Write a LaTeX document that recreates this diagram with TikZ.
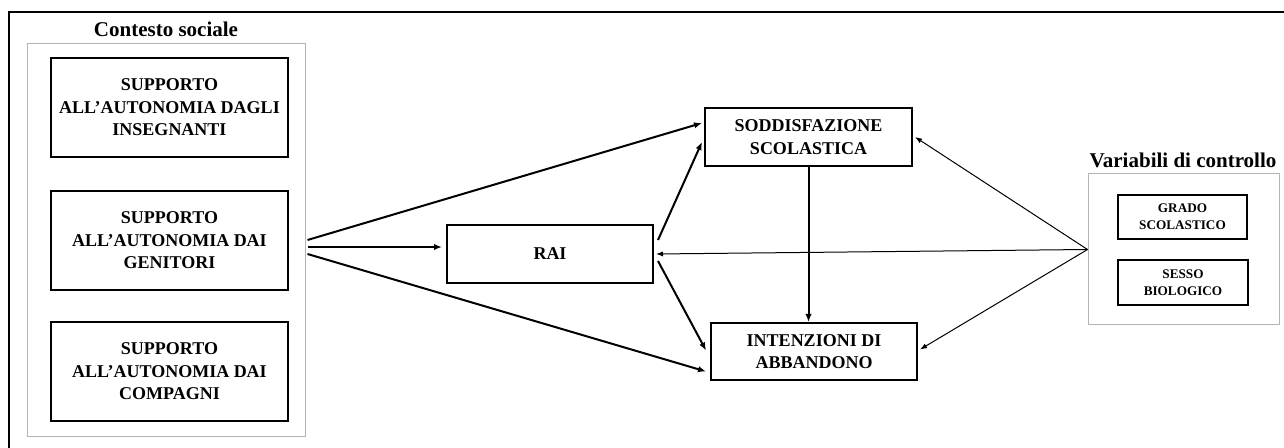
\documentclass[tikz,border=0pt]{standalone}
\usepackage{fontspec}
\setmainfont{Liberation Serif}
\usepackage{tikz}
\usetikzlibrary{arrows.meta}
\definecolor{framegray}{HTML}{B4B4B4}
\tikzset{
  varbox/.style={
    draw,line width=1pt,rectangle,
    align=center,inner sep=0pt,
    font=\bfseries\fontsize{9}{11.25}\selectfont
  },
  ctrlbox/.style={
    draw,line width=1pt,rectangle,
    align=center,inner sep=0pt,
    font=\bfseries\fontsize{6.6}{8.5}\selectfont
  },
  groupbox/.style={draw=framegray,line width=0.5pt,rectangle,inner sep=0pt},
  grouplabel/.style={font=\bfseries\fontsize{10.5}{12}\selectfont},
  path/.style={line width=1pt,-{Latex[length=4pt,width=3.2pt]}},
  ctrlpath/.style={line width=0.5pt,-{Latex[length=3.5pt,width=2.6pt]}}
}

\begin{document}
\begin{tikzpicture}[x=0.5pt,y=-0.5pt]
  \path[use as bounding box] (0,0) rectangle (1284,448);
  \clip (0,0) rectangle (1284,448);
  \draw[line width=1pt] (9,12) rectangle (1300,470);

  % contesto sociale
  \node[groupbox,minimum width=139pt,minimum height=196pt] (contesto) at (166,240) {};
  \node[grouplabel] (contestolab) at (166,29) {Contesto sociale};
  \node[varbox,minimum width=118.5pt,minimum height=49.5pt] (insegnanti) at (169.5,107.5)
    {SUPPORTO\\ALL’AUTONOMIA DAGLI\\INSEGNANTI};
  \node[varbox,minimum width=118.5pt,minimum height=49.5pt] (genitori) at (169.5,240.5)
    {SUPPORTO\\ALL’AUTONOMIA DAI\\GENITORI};
  \node[varbox,minimum width=118.5pt,minimum height=49.5pt] (compagni) at (169.5,371.5)
    {SUPPORTO\\ALL’AUTONOMIA DAI\\COMPAGNI};

  % mediatore e esiti
  \node[varbox,minimum width=103pt,minimum height=29pt] (rai) at (550,254) {RAI};
  \node[varbox,minimum width=103.5pt,minimum height=29pt] (soddisfazione) at (808.5,137)
    {SODDISFAZIONE\\SCOLASTICA};
  \node[varbox,minimum width=103pt,minimum height=28.5pt] (abbandono) at (814,351.5)
    {INTENZIONI DI\\ABBANDONO};

  % variabili di controllo
  \node[groupbox,minimum width=95.5pt,minimum height=75.5pt] (controllo) at (1183.5,249.5) {};
  \node[grouplabel] (controllolab) at (1183,160) {Variabili di controllo};
  \node[ctrlbox,minimum width=64.5pt,minimum height=22pt] (grado) at (1182.5,217)
    {GRADO\\SCOLASTICO};
  \node[ctrlbox,minimum width=65pt,minimum height=22.5pt] (sesso) at (1183,282.5)
    {SESSO\\BIOLOGICO};

  % percorsi
  \draw[path] ([xshift=1pt]contesto.east) -- ([xshift=-1pt,yshift=7pt]soddisfazione.west);
  \draw[path] ([xshift=1pt,yshift=-3.5pt]contesto.east) -- ([xshift=-2pt,yshift=3.5pt]rai.west);
  \draw[path] ([xshift=1pt,yshift=-7pt]contesto.east) -- ([xshift=-2pt,yshift=-10pt]abbandono.west);
  \draw[path] ([xshift=2pt,yshift=7pt]rai.east) -- ([xshift=-1pt,yshift=-2.5pt]soddisfazione.west);
  \draw[path] ([xshift=2pt,yshift=-3.5pt]rai.east) -- ([xshift=-2pt,yshift=0.5pt]abbandono.west);
  \draw[path] (soddisfazione.south) -- (soddisfazione.south |- abbandono.north);
  \draw[ctrlpath] (controllo.west) -- ([xshift=1pt]soddisfazione.east);
  \draw[ctrlpath] (controllo.west) -- ([xshift=1pt]rai.east);
  \draw[ctrlpath] (controllo.west) -- ([xshift=1pt,yshift=1pt]abbandono.east);
\end{tikzpicture}
\end{document}
